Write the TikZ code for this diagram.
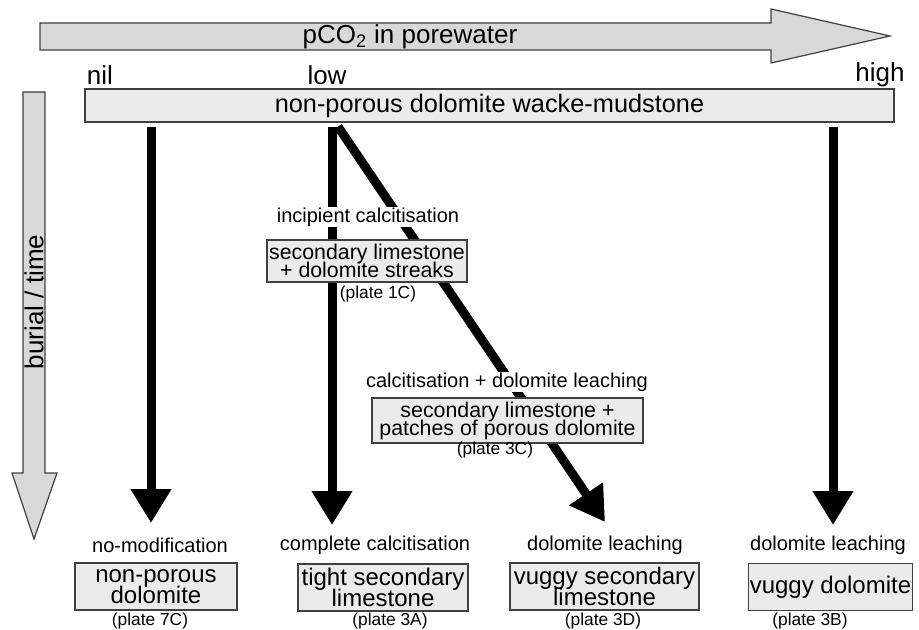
\documentclass[tikz,border=0pt]{standalone}
\usepackage{fontspec}
\setmainfont{Liberation Sans}
\usetikzlibrary{arrows.meta}
\pgfdeclarelayer{background}
\pgfsetlayers{background,main}

\definecolor{boxgray}{RGB}{235,235,235}
\definecolor{arrowgray}{RGB}{216,216,216}
\definecolor{edgegray}{RGB}{64,64,64}

\tikzset{every picture/.style={line width=0.75pt}}
\tikzset{
  bigarrow/.style={draw=edgegray, fill=arrowgray, line width=0.9pt},
  faciesbox/.style={draw=edgegray, fill=boxgray, line width=0.9pt, inner sep=1pt, align=center},
  toptext/.style={inner sep=0.75pt, font=\fontsize{19.5}{22}\selectfont},
  steptext/.style={inner sep=0.75pt, fill=white, font=\fontsize{15}{18}\selectfont},
  platetext/.style={inner sep=0.75pt, font=\fontsize{13}{15}\selectfont},
  midfont/.style={font={\fontsize{16}{13.5}\selectfont\lineskiplimit=-20pt}},
  endfont/.style={font={\fontsize{18}{16.25}\selectfont\lineskiplimit=-20pt}, minimum height=35.25pt},
  flowarrow/.style={line width=6.75pt, -{Triangle[length=25.5pt,width=29pt]}},
}

\begin{document}
\begin{tikzpicture}[x=0.75pt,y=0.75pt,yscale=-1,xscale=1]
\useasboundingbox (0,0) rectangle (919,630);

%Shape: Right Arrow [id:pco2arrow]
\draw [bigarrow] (40,23) -- (771,23) -- (771,9) -- (890,36) -- (771,63) -- (771,50) -- (40,50) -- cycle ;
%Shape: Down Arrow [id:burialarrow]
\draw [bigarrow] (23,92) -- (45,92) -- (45,473) -- (57,473) -- (34,539) -- (12,473) -- (23,473) -- cycle ;

% Text Node
\draw (410,37) node [toptext] (pco) {pCO\textsubscript{2} in porewater};
% Text Node
\draw (34,302) node [toptext, rotate=90] (burial) {burial / time};
% Text Node
\draw (100,75) node [toptext] (nil) {nil};
% Text Node
\draw (327,75) node [toptext] (low) {low};
% Text Node
\draw (880,75) node [toptext] (high) {high};

%Shape: Rectangle [id:mudstone]
\draw (489.5,105.5) node [faciesbox, font=\fontsize{19}{22}\selectfont, minimum width=606.75pt, minimum height=24.75pt] (mud) {non-porous dolomite wacke-mudstone};

%Coordinates [id:arrowtips]
\coordinate (nilend) at (151,523);
\coordinate (lowend) at (332,525);
\coordinate (vugend) at (605,522);
\coordinate (highend) at (833,525);

% Text Node
\draw (368,217) node [steptext] (incip) {incipient calcitisation};
%Shape: Rectangle [id:streaks]
\draw (367,261) node [faciesbox, midfont, minimum width=150pt, minimum height=31.5pt] (streaks) {secondary limestone\\+ dolomite streaks};
% Text Node
\draw (378,294) node [platetext] (p1c) {(plate 1C)};

% Text Node
\draw (507,382) node [steptext] (calcleach) {calcitisation + dolomite leaching};
%Shape: Rectangle [id:patches]
\draw (507.5,420.5) node [faciesbox, midfont, minimum width=203.25pt, minimum height=33.75pt] (patches) {secondary limestone +\\patches of porous dolomite};
% Text Node
\draw (495,450) node [platetext] (p3c) {(plate 3C)};

%Straight Lines [id:flows]
\begin{pgfonlayer}{background}
\draw [flowarrow] ([yshift=3pt]mud.south -| nilend) -- (nilend) ;
\draw [flowarrow] ([yshift=3pt]mud.south -| lowend) -- (lowend) ;
\draw [flowarrow] ([xshift=4.5pt,yshift=3pt]mud.south -| lowend) -- (vugend) ;
\draw [flowarrow] ([yshift=3pt]mud.south -| highend) -- (highend) ;
\end{pgfonlayer}

% Text Node
\draw (160,545) node [steptext] (nomod) {no-modification};
% Text Node
\draw (375,545) node [steptext] (complete) {complete calcitisation};
% Text Node
\draw (605,545) node [steptext] (leach1) {dolomite leaching};
% Text Node
\draw (828,545) node [steptext] (leach2) {dolomite leaching};

%Shape: Rectangle [id:endboxes]
\draw (156,586.5) node [faciesbox, endfont, minimum width=121.5pt] (nonporous) {non-porous\\dolomite};
\draw (383,587.5) node [faciesbox, endfont, minimum width=127.5pt] (tight) {tight secondary\\limestone};
\draw (604.5,586.5) node [faciesbox, endfont, minimum width=141.75pt] (vuggylime) {vuggy secondary\\limestone};
\draw (830.5,587) node [faciesbox, endfont, minimum width=119.25pt] (vuggydol) {vuggy dolomite};

% Text Node
\draw (150,621) node [platetext] (p7c) {(plate 7C)};
% Text Node
\draw (390,621) node [platetext] (p3a) {(plate 3A)};
% Text Node
\draw (603,621) node [platetext] (p3d) {(plate 3D)};
% Text Node
\draw (810,621) node [platetext] (p3b) {(plate 3B)};

\end{tikzpicture}
\end{document}
